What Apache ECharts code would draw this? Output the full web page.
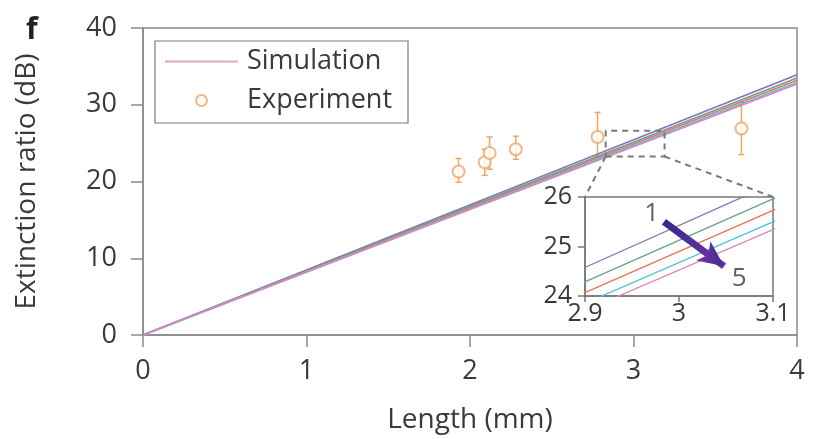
<!DOCTYPE html>
<html>
<head>
<meta charset="utf-8">
<script src="https://cdn.jsdelivr.net/npm/echarts@6/dist/echarts.min.js"></script>
<style>
  html, body { margin: 0; padding: 0; background: #fff; }
  #chart { width: 813px; height: 439px; }
</style>
</head>
<body>
<div id="chart"></div>
<script>
// simulated lines 1..5 go through the origin, value at 4 mm
const simNames = ['1', '2', '3', '4', '5']
const simEnd = [33.9, 33.5, 33.2, 32.9, 32.7]
const simColors = ['#7c78b8', '#6aa08c', '#e8735e', '#4fc2da', '#d987c2']

// experiment points
const expX = [1.93, 2.09, 2.12, 2.28, 2.78, 3.66]
const expY = [21.3, 22.5, 23.7, 24.2, 25.8, 26.9]
const expLow = [19.9, 20.8, 21.6, 22.9, 23.2, 23.5]
const expHigh = [23.0, 24.2, 25.8, 25.9, 29.0, 30.3]

// zoom box (main axes) and inset ranges
const zoomBox = [[2.83, 23.25], [3.19, 26.6]]
const insetX = [2.9, 3.1]
const insetY = [24, 26]
const arrowFrom = [2.984, 25.5]
const arrowTo = [3.048, 24.6]
const arrowLabels = [{ name: '1', value: [2.971, 25.66] }, { name: '5', value: [3.064, 24.36] }]

const textColor = '#3a3a3a'
const frameColor = '#8a8a8a'
const font = '"Open Sans", "Noto Sans", sans-serif'

const chart = echarts.init(document.getElementById('chart'))

const seriesData = []
simEnd.forEach((end, i) => {
  seriesData.push({
    name: 'Simulation',
    type: 'line',
    xAxisIndex: 0,
    yAxisIndex: 0,
    data: [[0, 0], [4, end]],
    symbol: 'none',
    z: 4,
    lineStyle: { color: simColors[i], width: 1.6 },
    itemStyle: { color: simColors[i] }
  })
  seriesData.push({
    name: 'inset' + simNames[i],
    type: 'line',
    xAxisIndex: 1,
    yAxisIndex: 1,
    data: [[0, 0], [4, end]],
    symbol: 'none',
    clip: true,
    lineStyle: { color: simColors[i], width: 1.3 }
  })
})

// error bars
seriesData.push({
  name: 'errors',
  type: 'custom',
  xAxisIndex: 0,
  yAxisIndex: 0,
  z: 3,
  data: expX.map((x, i) => [x, expLow[i], expHigh[i]]),
  renderItem: (params, api) => {
    const lo = api.coord([api.value(0), api.value(1)])
    const hi = api.coord([api.value(0), api.value(2)])
    const style = { stroke: '#f2a464', lineWidth: 1.5 }
    return {
      type: 'group',
      children: [
        { type: 'line', shape: { x1: lo[0], y1: lo[1], x2: hi[0], y2: hi[1] }, style },
        { type: 'line', shape: { x1: lo[0] - 3, y1: lo[1], x2: lo[0] + 3, y2: lo[1] }, style },
        { type: 'line', shape: { x1: hi[0] - 3, y1: hi[1], x2: hi[0] + 3, y2: hi[1] }, style }
      ]
    }
  }
})

seriesData.push({
  name: 'Experiment',
  type: 'scatter',
  xAxisIndex: 0,
  yAxisIndex: 0,
  z: 3,
  data: expX.map((x, i) => [x, expY[i]]),
  symbol: 'emptyCircle',
  symbolSize: 12,
  itemStyle: { color: '#f2a464', borderColor: '#f2a464', borderWidth: 1.5 }
})

// dashed zoom box on the main plot
seriesData.push({
  name: 'zoombox',
  type: 'line',
  xAxisIndex: 0,
  yAxisIndex: 0,
  z: 5,
  symbol: 'none',
  data: [
    [zoomBox[0][0], zoomBox[0][1]], [zoomBox[1][0], zoomBox[0][1]],
    [zoomBox[1][0], zoomBox[1][1]], [zoomBox[0][0], zoomBox[1][1]],
    [zoomBox[0][0], zoomBox[0][1]]
  ],
  lineStyle: { color: '#7a7a7a', width: 2, type: [6, 5] }
})

// arrow + labels in the inset
seriesData.push({
  name: 'arrow',
  type: 'scatter',
  xAxisIndex: 1,
  yAxisIndex: 1,
  symbolSize: 0,
  data: arrowLabels,
  label: {
    show: true,
    position: 'inside',
    formatter: p => p.name,
    fontSize: 26,
    fontFamily: font,
    color: textColor
  },
  markLine: {
    silent: true,
    symbol: ['none', 'arrow'],
    symbolSize: [18, 26],
    label: { show: false },
    lineStyle: {
      width: 7,
      type: 'solid',
      color: new echarts.graphic.LinearGradient(0, 0, 1, 1, [
        { offset: 0, color: '#2f2a8c' },
        { offset: 1, color: '#7b35a5' }
      ])
    },
    itemStyle: { color: '#7b35a5' },
    data: [[{ coord: arrowFrom }, { coord: arrowTo }]]
  }
})

const option = {
  animation: false,
  backgroundColor: '#fff',
  textStyle: { fontFamily: font },
  legend: {
    orient: 'vertical',
    left: 155,
    top: 41,
    padding: [7, 16, 9, 10],
    itemWidth: 73,
    itemHeight: 11,
    itemGap: 12,
    borderColor: '#7a7a7a',
    borderWidth: 1.2,
    textStyle: { fontSize: 27, color: textColor, fontFamily: font, padding: [0, 0, 0, 4] },
    data: [
      {
        name: 'Simulation',
        icon: 'path://M0,0 L73,0 L73,2 L0,2 Z',
        itemStyle: { color: '#e2a6c8', borderWidth: 0 }
      },
      { name: 'Experiment', icon: 'emptyCircle' }
    ]
  },
  grid: [
    { left: 143, top: 28, right: 16, bottom: 103, show: true, borderColor: frameColor, borderWidth: 1.5 },
    { left: 585, top: 197, width: 188, height: 99, show: true, borderColor: '#777', borderWidth: 1.5, backgroundColor: '#fff' }
  ],
  xAxis: [
    {
      gridIndex: 0,
      type: 'value',
      min: 0,
      max: 4,
      interval: 1,
      name: 'Length (mm)',
      nameLocation: 'middle',
      nameGap: 71,
      nameTextStyle: { fontSize: 28, color: textColor },
      axisLine: { lineStyle: { color: frameColor, width: 1.5 } },
      axisTick: { length: 12, lineStyle: { color: frameColor, width: 1.5 } },
      axisLabel: { fontSize: 27, color: textColor, margin: 23 },
      splitLine: { show: false }
    },
    {
      gridIndex: 1,
      type: 'value',
      min: insetX[0],
      max: insetX[1],
      interval: 0.1,
      axisLine: { lineStyle: { color: '#777', width: 1.5 } },
      axisTick: { length: 6, lineStyle: { color: '#777', width: 1.5 } },
      axisLabel: { fontSize: 25, color: textColor, margin: 5, formatter: v => String(Math.round(v * 10) / 10) },
      splitLine: { show: false }
    }
  ],
  yAxis: [
    {
      gridIndex: 0,
      type: 'value',
      min: 0,
      max: 40,
      interval: 10,
      name: 'Extinction ratio (dB)',
      nameLocation: 'middle',
      nameGap: 102,
      nameTextStyle: { fontSize: 28, color: textColor },
      axisLine: { show: true, lineStyle: { color: frameColor, width: 1.5 } },
      axisTick: { show: true, length: 12, lineStyle: { color: frameColor, width: 1.5 } },
      axisLabel: { fontSize: 27, color: textColor, margin: 26 },
      splitLine: { show: false }
    },
    {
      gridIndex: 1,
      type: 'value',
      min: insetY[0],
      max: insetY[1],
      interval: 1,
      axisLine: { show: true, lineStyle: { color: '#777', width: 1.5 } },
      axisTick: { show: true, length: 7, lineStyle: { color: '#777', width: 1.5 } },
      axisLabel: { fontSize: 25, color: textColor, margin: 13 },
      splitLine: { show: false }
    }
  ],
  series: seriesData
}
chart.setOption(option)

// panel letter and dashed connectors from the zoom box to the inset
const bl = chart.convertToPixel({ gridIndex: 0 }, [zoomBox[0][0], zoomBox[0][1]])
const br = chart.convertToPixel({ gridIndex: 0 }, [zoomBox[1][0], zoomBox[0][1]])
const tl = chart.convertToPixel({ gridIndex: 1 }, [insetX[0], insetY[1]])
const tr = chart.convertToPixel({ gridIndex: 1 }, [insetX[1], insetY[1]])
const dash = { stroke: '#7a7a7a', lineWidth: 2, lineDash: [6, 5] }
chart.setOption({
  graphic: [
    { type: 'text', left: 26, top: 15, style: { text: 'f', font: 'bold 30px ' + font, fill: '#222' } },
    { type: 'line', z: 10, shape: { x1: bl[0], y1: bl[1], x2: tl[0], y2: tl[1] }, style: dash },
    { type: 'line', z: 10, shape: { x1: br[0], y1: br[1], x2: tr[0], y2: tr[1] }, style: dash }
  ]
})
</script>
</body>
</html>
